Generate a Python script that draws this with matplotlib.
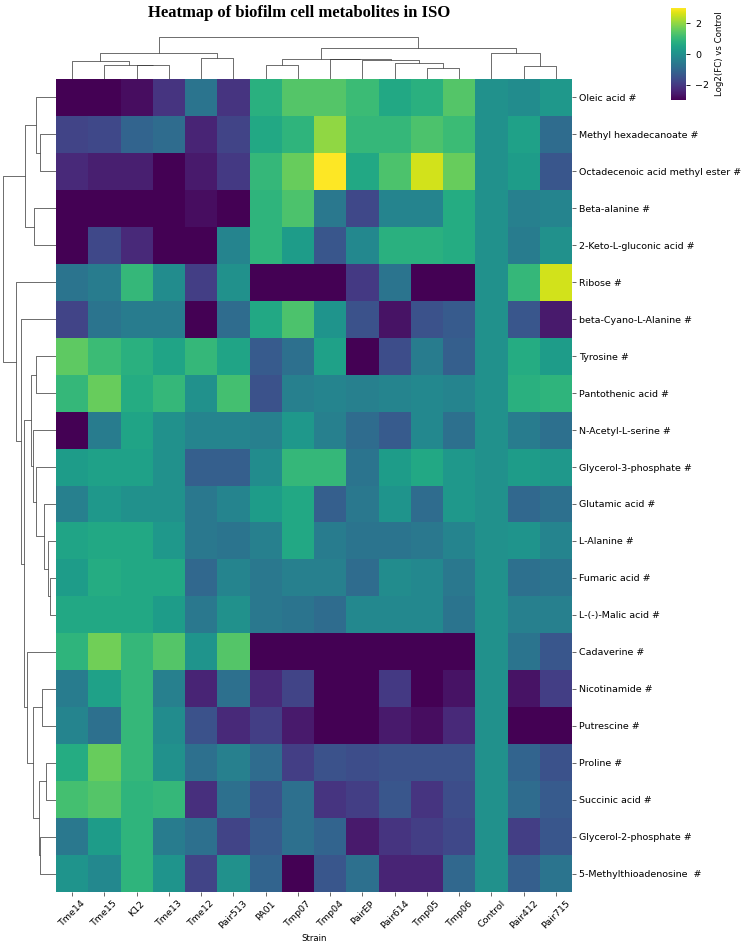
import numpy as np
import matplotlib
matplotlib.use("Agg")
import matplotlib.pyplot as plt
from matplotlib.collections import LineCollection

strains = ["Tme14", "Tme15", "K12", "Tme13", "Tme12", "Pair513", "PA01", "Tmp07",
           "Tmp04", "PairEP", "Pair614", "Tmp05", "Tmp06", "Control", "Pair412", "Pair715"]

metabolites = ["Oleic acid #", "Methyl hexadecanoate #", "Octadecenoic acid methyl ester #",
               "Beta-alanine #", "2-Keto-L-gluconic acid #", "Ribose #", "beta-Cyano-L-Alanine #",
               "Tyrosine #", "Pantothenic acid #", "N-Acetyl-L-serine #", "Glycerol-3-phosphate #",
               "Glutamic acid #", "L-Alanine #", "Fumaric acid #", "L-(-)-Malic acid #",
               "Cadaverine #", "Nicotinamide #", "Putrescine #", "Proline #", "Succinic acid #",
               "Glycerol-2-phosphate #", "5-Methylthioadenosine  #"]

# log2 fold change vs control, rows = metabolites, cols = strains
log2fc = np.array([
    [-3.0, -3.0, -2.8, -2.1, -0.7, -2.1, 0.8, 1.4, 1.4, 1.1, 0.6, 0.8, 1.4, 0.0, -0.1, 0.2],
    [-1.8, -1.7, -1.1, -0.9, -2.4, -1.8, 0.6, 0.9, 2.0, 1.0, 1.0, 1.3, 1.1, 0.0, 0.4, -0.9],
    [-2.3, -2.5, -2.5, -3.0, -2.6, -2.0, 1.0, 1.6, 3.0, 0.6, 1.3, 2.6, 1.6, 0.0, 0.3, -1.4],
    [-3.0, -3.0, -3.0, -3.0, -2.8, -3.0, 0.9, 1.3, -0.6, -1.7, -0.3, -0.3, 0.7, 0.0, -0.4, -0.3],
    [-3.0, -1.7, -2.3, -3.0, -3.0, -0.3, 0.9, 0.3, -1.4, -0.2, 0.8, 0.8, 0.7, 0.0, -0.5, 0.0],
    [-0.7, -0.5, 1.0, -0.1, -1.9, 0.0, -3.0, -3.0, -3.0, -2.0, -0.7, -3.0, -3.0, 0.0, 1.0, 2.6],
    [-1.8, -0.7, -0.5, -0.5, -3.0, -0.9, 0.6, 1.3, 0.1, -1.5, -2.7, -1.5, -1.3, 0.0, -1.4, -2.6],
    [1.5, 1.1, 0.8, 0.5, 1.0, 0.5, -1.3, -0.8, 0.4, -3.0, -1.6, -0.5, -1.2, 0.0, 0.7, 0.3],
    [1.0, 1.6, 0.7, 1.0, 0.0, 1.2, -1.5, -0.4, -0.3, -0.4, -0.3, -0.2, -0.3, 0.0, 0.8, 0.9],
    [-3.0, -0.5, 0.5, 0.0, -0.3, -0.3, -0.4, 0.2, -0.4, -0.9, -1.3, -0.2, -0.8, 0.0, -0.5, -0.8],
    [0.3, 0.4, 0.4, 0.0, -1.2, -1.2, -0.1, 1.0, 1.0, -0.7, 0.3, 0.6, 0.2, 0.0, 0.3, 0.2],
    [-0.4, 0.2, 0.0, 0.0, -0.6, -0.3, 0.3, 0.6, -1.2, -0.6, 0.1, -0.9, 0.2, 0.0, -1.0, -0.8],
    [0.5, 0.6, 0.6, 0.2, -0.6, -0.7, -0.4, 0.6, -0.5, -0.7, -0.7, -0.6, -0.3, 0.0, 0.1, -0.3],
    [0.3, 0.7, 0.6, 0.6, -1.0, -0.3, -0.6, -0.4, -0.4, -0.9, -0.1, -0.2, -0.6, 0.0, -0.8, -0.7],
    [0.6, 0.6, 0.6, 0.3, -0.6, 0.0, -0.6, -0.7, -0.9, -0.2, -0.2, -0.2, -0.7, 0.0, -0.4, -0.4],
    [0.9, 1.7, 1.0, 1.4, 0.1, 1.4, -3.0, -3.0, -3.0, -3.0, -3.0, -3.0, -3.0, 0.0, -0.7, -1.4],
    [-0.5, 0.4, 1.0, -0.4, -2.4, -0.8, -2.3, -1.8, -3.0, -3.0, -2.0, -3.0, -2.7, 0.0, -2.7, -1.9],
    [-0.3, -0.8, 1.0, -0.1, -1.5, -2.3, -1.9, -2.6, -3.0, -3.0, -2.6, -2.8, -2.3, 0.0, -3.0, -3.0],
    [0.7, 1.6, 1.0, 0.0, -0.8, -0.4, -0.9, -1.9, -1.5, -1.6, -1.5, -1.5, -1.5, 0.0, -1.1, -1.5],
    [1.2, 1.4, 0.9, 1.0, -2.2, -0.8, -1.5, -0.8, -2.1, -1.9, -1.4, -2.1, -1.6, 0.0, -0.9, -1.3],
    [-0.6, 0.3, 0.9, -0.5, -0.8, -1.8, -1.3, -0.8, -1.1, -2.6, -2.1, -1.9, -1.7, 0.0, -1.9, -1.4],
    [0.1, -0.2, 0.9, 0.1, -1.8, 0.0, -1.1, -3.0, -1.4, -0.8, -2.4, -2.4, -1.0, 0.0, -1.2, -0.7],
])

# dendrogram merges: (left, right, height), new node id = n_leaves + k
col_links = [(2, 3, 40), (1, 16, 42), (0, 17, 52), (4, 5, 60), (18, 19, 77),
             (11, 12, 32), (10, 21, 47), (9, 22, 54), (8, 23, 57), (6, 7, 42),
             (25, 24, 59), (14, 15, 37), (13, 27, 77), (26, 28, 89), (20, 29, 122)]

row_links = [(1, 2, 49), (0, 22, 62), (3, 4, 67), (23, 24, 95), (13, 14, 17),
             (12, 26, 24), (11, 27, 37), (10, 28, 60), (9, 29, 70), (7, 8, 62),
             (31, 30, 77), (16, 17, 44), (18, 19, 30), (20, 21, 49), (34, 35, 51),
             (33, 36, 70), (15, 37, 89), (32, 38, 97), (6, 39, 105), (5, 40, 122),
             (25, 41, 162)]


def dendro_segments(links, n):
    pos = {i: (i + 0.5, 0.0) for i in range(n)}
    segs = []
    for k, (a, b, h) in enumerate(links):
        xa, ha = pos[a]
        xb, hb = pos[b]
        segs.append([(xa, ha), (xa, h), (xb, h), (xb, hb)])
        pos[n + k] = ((xa + xb) / 2, h)
    return segs


W, H = 750, 944
fig = plt.figure(figsize=(W / 100, H / 100), dpi=100)


def box(x0, y0, x1, y1):
    return [x0 / W, 1 - y1 / H, (x1 - x0) / W, (y1 - y0) / H]


ax = fig.add_axes(box(56, 79, 572, 892))
ax_row = fig.add_axes(box(0, 79, 56, 892))
ax_col = fig.add_axes(box(56, 35, 572, 79))
cax = fig.add_axes(box(671, 8, 686, 100))

nr, nc = log2fc.shape
mesh = ax.pcolormesh(log2fc, cmap="viridis", vmin=-3, vmax=3)
ax.set_xlim(0, nc)
ax.set_ylim(nr, 0)
ax.set_xticks(np.arange(nc) + 0.5)
ax.set_xticklabels(strains, rotation=45, fontsize=6.8)
ax.set_yticks(np.arange(nr) + 0.5)
ax.set_yticklabels(metabolites, fontsize=6.8)
ax.yaxis.tick_right()
ax.tick_params(length=3, width=0.6, color="0.3", pad=2)
ax.set_xlabel("Strain", fontsize=6.2, labelpad=2)
for s in ax.spines.values():
    s.set_visible(False)

# column dendrogram
segs = dendro_segments(col_links, nc)
ax_col.add_collection(LineCollection(segs, colors="0.2", linewidths=0.5))
ax_col.set_xlim(0, nc)
ax_col.set_ylim(0, max(l[2] for l in col_links) * 1.05)
ax_col.axis("off")

# row dendrogram
segs = dendro_segments(row_links, nr)
segs = [[(h, p) for p, h in s] for s in segs]
ax_row.add_collection(LineCollection(segs, colors="0.2", linewidths=0.5))
ax_row.set_ylim(nr, 0)
ax_row.set_xlim(max(l[2] for l in row_links) * 1.05, 0)
ax_row.axis("off")

cb = fig.colorbar(mesh, cax=cax, ticks=[-2, 0, 2])
cb.outline.set_linewidth(0)
cb.ax.tick_params(labelsize=6.8, length=3, width=0.6)
cb.set_label("Log2(FC) vs Control", fontsize=6.2)

fig.text(299 / W, 1 - 13 / H, "Heatmap of biofilm cell metabolites in ISO",
         ha="center", va="center", fontsize=12, fontweight="bold", family="Liberation Serif")

fig.savefig("out.png", dpi=100)
